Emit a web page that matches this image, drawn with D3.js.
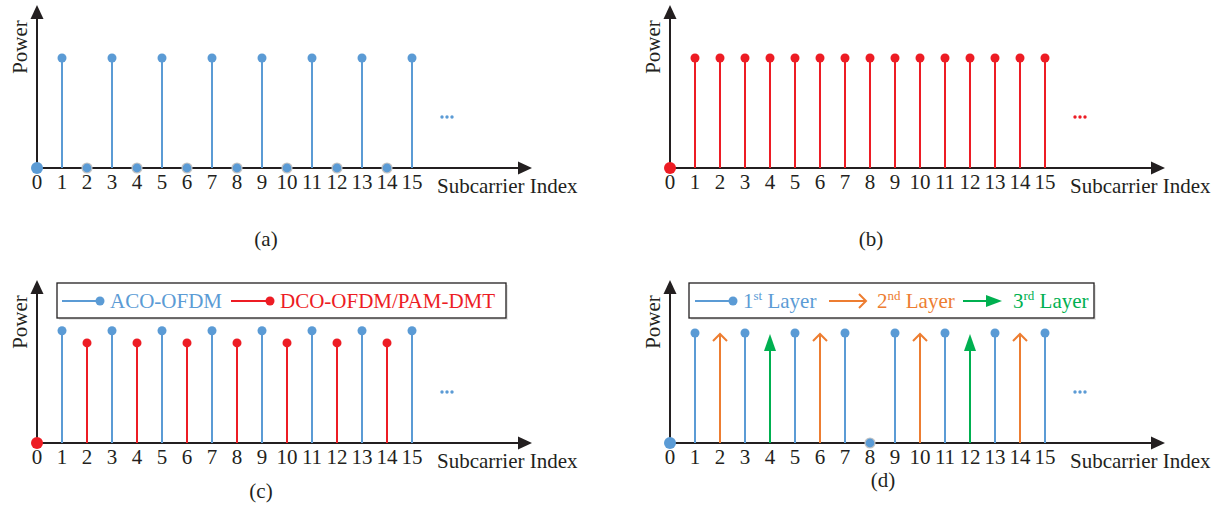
<!DOCTYPE html>
<html>
<head>
<meta charset="utf-8">
<script src="https://cdn.jsdelivr.net/npm/d3@7"></script>
<style>
  body { margin: 0; background: #fff; }
  svg text { font-family: "Times New Roman", "Liberation Serif", serif; fill: #231f20; }
</style>
</head>
<body>
<div id="chart"></div>
<script>
// Subcarrier index and tick labels
const subcarriers = [0, 1, 2, 3, 4, 5, 6, 7, 8, 9, 10, 11, 12, 13, 14, 15];
const tickLabels = ['0', '1', '2', '3', '4', '5', '6', '7', '8', '9', '10', '11', '12', '13', '14', '15'];

// (a) ACO-OFDM: only odd subcarriers carry power
const acoPowerA = [0, 1, 0, 1, 0, 1, 0, 1, 0, 1, 0, 1, 0, 1, 0, 1];
// (b) DCO-OFDM: every subcarrier except DC
const dcoPowerB = [0, 1, 1, 1, 1, 1, 1, 1, 1, 1, 1, 1, 1, 1, 1, 1];
// (c) ACO-OFDM (odd) + DCO-OFDM/PAM-DMT (even)
const acoPowerC = [null, 1.02, null, 1.02, null, 1.02, null, 1.02, null, 1.02, null, 1.02, null, 1.02, null, 1.02];
const dcoPowerC = [0, null, 0.91, null, 0.91, null, 0.91, null, 0.91, null, 0.91, null, 0.91, null, 0.91, null];
// (d) layered ACO-OFDM
const layer1D = [0, 1, null, 1, null, 1, null, 1, 0, 1, null, 1, null, 1, null, 1];
const layer2D = [null, null, 1, null, null, null, 1, null, null, null, 1, null, null, null, 1, null];
const layer3D = [null, null, null, null, 1, null, null, null, null, null, null, null, 1, null, null, null];

const panelLabels = ['(a)', '(b)', '(c)', '(d)'];

const BLUE = '#5b9bd5', RED = '#ed1c24', ORANGE = '#ed7d31', GREEN = '#00b050', INK = '#231f20';

const svg = d3.select('#chart').append('svg').attr('width', 1220).attr('height', 506);

/**
 * Draws one panel frame: arrowed axes, tick labels and axis titles.
 * Returns the x/y scales for the stems.
 */
function drawFrame(x0, y0, yTop) {
    const g = svg.append('g');
    const x = d3.scaleLinear().domain([0, 15]).range([x0, x0 + 375]);
    const y = d3.scaleLinear().domain([0, 1]).range([y0, y0 - 110]);
    const xEnd = x0 + 495;

    // axes with filled arrow heads
    g.append('line').attr('x1', x0).attr('x2', xEnd - 10).attr('y1', y0).attr('y2', y0)
        .attr('stroke', INK).attr('stroke-width', 2);
    g.append('path').attr('d', `M${xEnd},${y0} L${xEnd - 14},${y0 - 6.5} L${xEnd - 14},${y0 + 6.5} Z`).attr('fill', INK);
    g.append('line').attr('x1', x0).attr('x2', x0).attr('y1', y0).attr('y2', yTop + 10)
        .attr('stroke', INK).attr('stroke-width', 2);
    g.append('path').attr('d', `M${x0},${yTop} L${x0 - 6.5},${yTop + 14} L${x0 + 6.5},${yTop + 14} Z`).attr('fill', INK);

    g.selectAll('.tick').data(subcarriers).join('text').classed('tick', true)
        .attr('x', d => x(d)).attr('y', y0 + 21).attr('text-anchor', 'middle')
        .attr('font-size', 21).text(d => tickLabels[d]);

    g.append('text').attr('x', x0 + 400).attr('y', y0 + 25).attr('font-size', 21).text('Subcarrier Index');
    g.append('text').attr('transform', `translate(${x0 - 10},${y0 - 121})rotate(-90)`)
        .attr('text-anchor', 'middle').attr('font-size', 21).text('Power');
    return { g, x, y };
}

// stems with round markers; zero values sit on the axis as dots
function drawStems(p, values, color) {
    const pts = subcarriers.filter(i => values[i] !== null);
    p.g.selectAll(null).data(pts.filter(i => values[i] > 0)).join('line')
        .attr('x1', i => p.x(i)).attr('x2', i => p.x(i))
        .attr('y1', p.y(0)).attr('y2', i => p.y(values[i]))
        .attr('stroke', color).attr('stroke-width', 2);
    p.g.selectAll(null).data(pts).join('circle')
        .attr('cx', i => p.x(i)).attr('cy', i => p.y(values[i]))
        .attr('r', i => values[i] > 0 ? 4.5 : (i === 0 ? 6 : 5))
        .attr('fill', color)
        .attr('stroke', i => (values[i] === 0 && i !== 0) ? '#c4c4c4' : 'none')
        .attr('stroke-width', 1.2);
}

function openArrow(g, x, yBase, yTip, color) {
    g.append('line').attr('x1', x).attr('x2', x).attr('y1', yBase).attr('y2', yTip + 1)
        .attr('stroke', color).attr('stroke-width', 2);
    g.append('path').attr('d', `M${x - 7},${yTip + 8} L${x},${yTip + 1} L${x + 7},${yTip + 8}`)
        .attr('fill', 'none').attr('stroke', color).attr('stroke-width', 2);
}

function solidArrow(g, x, yBase, yTip, color) {
    g.append('line').attr('x1', x).attr('x2', x).attr('y1', yBase).attr('y2', yTip + 12)
        .attr('stroke', color).attr('stroke-width', 2);
    g.append('path').attr('d', `M${x},${yTip} L${x - 6},${yTip + 17} L${x + 6},${yTip + 17} Z`).attr('fill', color);
}

function openArrowH(g, xa, xb, yy, color) {
    g.append('line').attr('x1', xa).attr('x2', xb - 1).attr('y1', yy).attr('y2', yy).attr('stroke', color).attr('stroke-width', 2);
    g.append('path').attr('d', `M${xb - 8},${yy - 7} L${xb - 1},${yy} L${xb - 8},${yy + 7}`)
        .attr('fill', 'none').attr('stroke', color).attr('stroke-width', 2);
}

function ellipsis(p, color) {
    [0, 5, 10].forEach(dx => p.g.append('circle')
        .attr('cx', p.x(15) + 30 + dx).attr('cy', p.y(0) - 51).attr('r', 1.7).attr('fill', color));
}

function legendBox(x1, x2, y1, y2) {
    svg.append('rect').attr('x', x1 + 2).attr('y', y1 + 2).attr('width', x2 - x1).attr('height', y2 - y1)
        .attr('fill', '#e6e6e6');
    svg.append('rect').attr('x', x1).attr('y', y1).attr('width', x2 - x1).attr('height', y2 - y1)
        .attr('fill', '#fff').attr('stroke', INK).attr('stroke-width', 1.3);
}

// ---- (a)
const pa = drawFrame(37, 168, 5);
drawStems(pa, acoPowerA, BLUE);
ellipsis(pa, BLUE);

// ---- (b)
const pb = drawFrame(670, 168, 5);
drawStems(pb, dcoPowerB, RED);
ellipsis(pb, RED);

// ---- (c)
const pc = drawFrame(37, 443, 280);
drawStems(pc, acoPowerC, BLUE);
drawStems(pc, dcoPowerC, RED);
ellipsis(pc, BLUE);
legendBox(57, 506, 283, 318);
svg.append('line').attr('x1', 62).attr('x2', 100).attr('y1', 301).attr('y2', 301).attr('stroke', BLUE).attr('stroke-width', 2);
svg.append('circle').attr('cx', 100).attr('cy', 301).attr('r', 4.5).attr('fill', BLUE);
svg.append('text').attr('x', 110).attr('y', 308).attr('font-size', 21).style('fill', BLUE).text('ACO-OFDM');
svg.append('line').attr('x1', 231).attr('x2', 270).attr('y1', 301).attr('y2', 301).attr('stroke', RED).attr('stroke-width', 2);
svg.append('circle').attr('cx', 270).attr('cy', 301).attr('r', 4.5).attr('fill', RED);
svg.append('text').attr('x', 280).attr('y', 308).attr('font-size', 21).style('fill', RED).text('DCO-OFDM/PAM-DMT');

// ---- (d)
const pd = drawFrame(670, 443, 280);
drawStems(pd, layer1D, BLUE);
subcarriers.filter(i => layer2D[i] !== null).forEach(i => openArrow(pd.g, pd.x(i), pd.y(0), pd.y(layer2D[i]), ORANGE));
subcarriers.filter(i => layer3D[i] !== null).forEach(i => solidArrow(pd.g, pd.x(i), pd.y(0), pd.y(layer3D[i]) + 1, GREEN));
ellipsis(pd, BLUE);
legendBox(689, 1094, 283, 318);
svg.append('line').attr('x1', 695).attr('x2', 733).attr('y1', 301).attr('y2', 301).attr('stroke', BLUE).attr('stroke-width', 2);
svg.append('circle').attr('cx', 733).attr('cy', 301).attr('r', 4.5).attr('fill', BLUE);
openArrowH(svg, 829, 867, 301, ORANGE);
svg.append('line').attr('x1', 963).attr('x2', 992).attr('y1', 301).attr('y2', 301).attr('stroke', GREEN).attr('stroke-width', 2);
svg.append('path').attr('d', 'M1002,301 L986,295 L986,307 Z').attr('fill', GREEN);

const layerNames = [['1', 'st', 743, BLUE], ['2', 'nd', 877, ORANGE], ['3', 'rd', 1013, GREEN]];
layerNames.forEach(([n, sup, lx, color]) => {
    const t = svg.append('text').attr('x', lx).attr('y', 308).attr('font-size', 21).style('fill', color);
    t.append('tspan').text(n);
    t.append('tspan').attr('dy', -8).attr('font-size', 13).text(sup);
    t.append('tspan').attr('dy', 8).text(' Layer');
});

// ---- panel captions
const captionPos = [[266, 246], [871, 246], [261, 498], [883, 487]];
panelLabels.forEach((lab, k) => svg.append('text')
    .attr('x', captionPos[k][0]).attr('y', captionPos[k][1]).attr('text-anchor', 'middle')
    .attr('font-size', 21).text(lab));
</script>
</body>
</html>
